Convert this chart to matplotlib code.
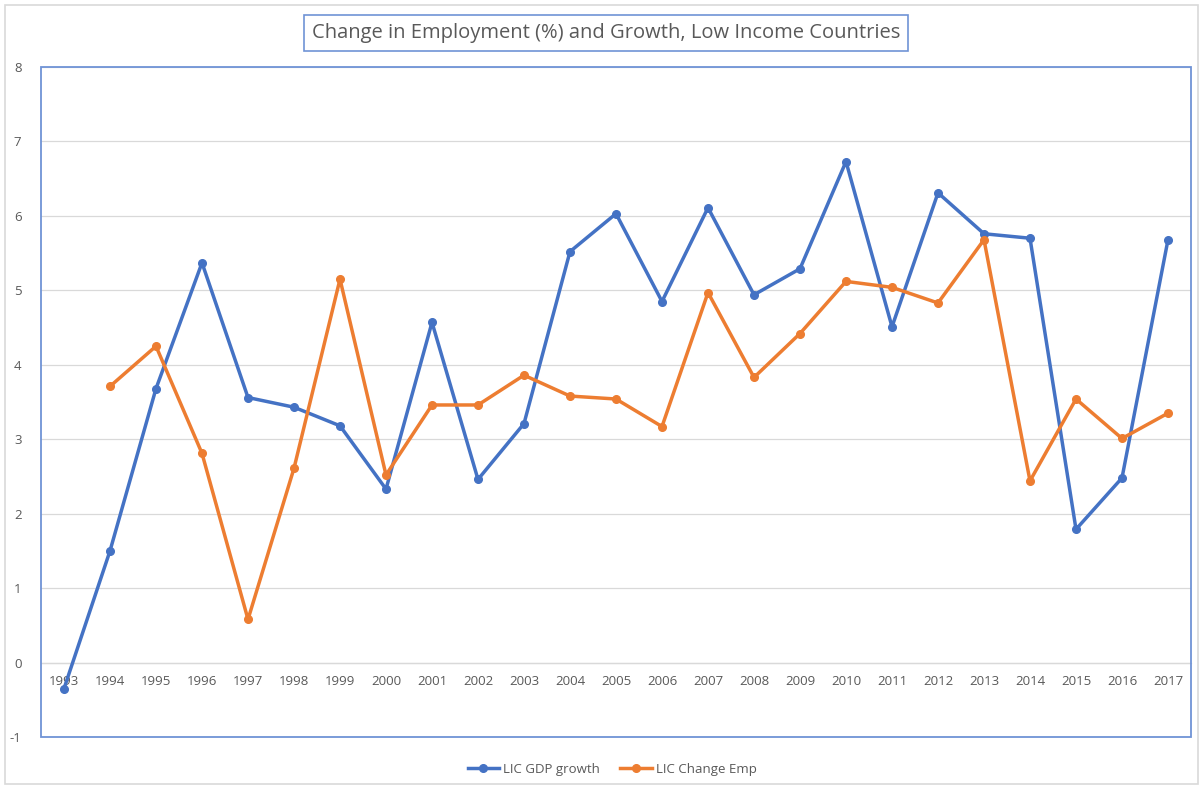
import matplotlib
matplotlib.use("Agg")
import matplotlib.pyplot as plt
from matplotlib.patches import Rectangle

years = [str(y) for y in range(1993, 2018)]
gdp_growth = [-0.35, 1.50, 3.68, 5.37, 3.56, 3.43, 3.18, 2.33, 4.57, 2.46, 3.21, 5.52,
              6.03, 4.85, 6.11, 4.94, 5.29, 6.73, 4.51, 6.31, 5.76, 5.70, 1.79, 2.48, 5.68]
change_emp = [None, 3.71, 4.25, 2.81, 0.58, 2.61, 5.15, 2.52, 3.46, 3.46, 3.86, 3.58,
              3.54, 3.17, 4.97, 3.83, 4.42, 5.12, 5.04, 4.83, 5.68, 2.44, 3.54, 3.01, 3.35]
y_ticks = list(range(-1, 9))

title = "Change in Employment (%) and Growth, Low Income Countries"
BLUE = "#4472C4"
ORANGE = "#ED7D31"
GRAY_TXT = "#595959"
GRID = "#D9D9D9"
FRAME = "#6F93D6"

plt.rcParams['font.family'] = ['Open Sans', 'DejaVu Sans']

fig = plt.figure(figsize=(12.03, 7.89), dpi=100)
ax = fig.add_axes([41/1203, 52/789, 1150/1203, 670/789])

x = list(range(len(years)))
emp_x = [i for i, v in zip(x, change_emp) if v is not None]
emp_y = [v for v in change_emp if v is not None]

ax.plot(x, gdp_growth, color=BLUE, lw=2.5, marker='o', ms=5.5, label="LIC GDP growth",
        solid_joinstyle='round', zorder=3)
ax.plot(emp_x, emp_y, color=ORANGE, lw=2.5, marker='o', ms=5.5, label="LIC Change Emp",
        solid_joinstyle='round', zorder=3)

ax.set_xlim(-0.5, len(years) - 0.5)
ax.set_ylim(-1, 8)
ax.set_yticks(y_ticks)
ax.set_yticklabels([str(t) for t in y_ticks])
ax.yaxis.grid(True, color=GRID, lw=0.9)
ax.set_axisbelow(True)

ax.set_xticks(x)
ax.set_xticklabels(years)
for s in ['top', 'right', 'left']:
    ax.spines[s].set_visible(False)
ax.spines['bottom'].set_position(('data', 0))
ax.spines['bottom'].set_color(GRID)
ax.spines['bottom'].set_linewidth(0.9)
ax.tick_params(axis='x', length=0, pad=9, labelsize=9.5, labelcolor=GRAY_TXT)
ax.tick_params(axis='y', length=0, pad=14, labelsize=9.5, labelcolor=GRAY_TXT)

# plot-area frame
ax.add_patch(Rectangle((0, 0), 1, 1, transform=ax.transAxes, fill=False,
                       edgecolor=FRAME, lw=1.3, clip_on=False, zorder=5))

# title in a box
fig.text(606/1203, 1 - 33/789, title, ha='center', va='center', fontsize=14.5,
         color=GRAY_TXT,
         bbox=dict(boxstyle='square,pad=0.4', fc='white', ec=FRAME, lw=1.2))

leg = fig.legend(loc='center', bbox_to_anchor=(612/1203, 1 - 769/789), ncol=2,
                 frameon=False, fontsize=9.5, handlelength=2.4, columnspacing=1.5,
                 handletextpad=0.3)
for t in leg.get_texts():
    t.set_color(GRAY_TXT)

# outer chart border
fig.add_artist(Rectangle((5/1203, 5/789), 1193/1203, 779/789, transform=fig.transFigure,
                         fill=False, edgecolor="#D9D9D9", lw=1.2))

fig.savefig("out.png", dpi=100)
